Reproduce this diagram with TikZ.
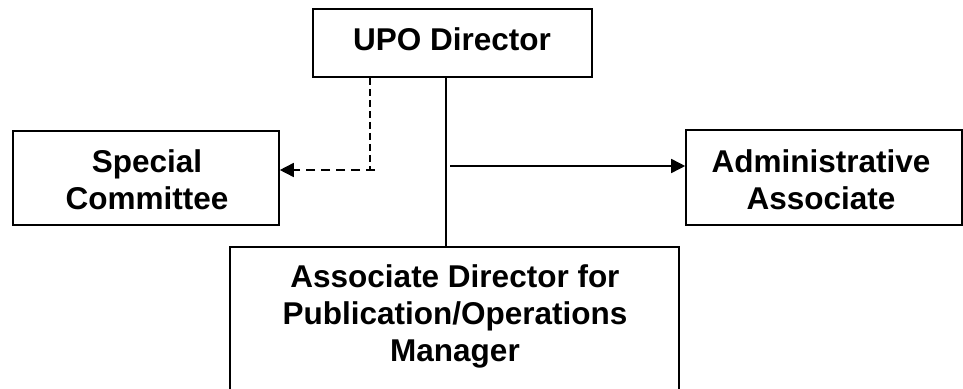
\documentclass[tikz,border=0pt]{standalone}
\usepackage{fontspec}
\setmainfont{Liberation Sans}
\usetikzlibrary{arrows.meta}
\begin{document}
\begin{tikzpicture}[x=1pt,y=-1pt,
  box/.style={draw=black, line width=1.6pt, fill=white, inner sep=0pt},
  lbl/.style={align=center, inner sep=0pt, font=\fontsize{31.5}{37}\selectfont\bfseries},
  link/.style={line width=1.6pt},
  tip/.style={-{Triangle[length=14pt,width=14pt]}}]
\useasboundingbox (0,0) rectangle (963,388);
\clip (0,0) rectangle (963,388);

% boxes
\node[box, minimum width=279pt, minimum height=68pt]  (upo)   at (452.5,43)  {};
\node[box, minimum width=266pt, minimum height=94pt]  (spec)  at (146,178)   {};
\node[box, minimum width=276pt, minimum height=95pt]  (admin) at (824,177.5) {};
\node[box, minimum width=449pt, minimum height=160pt] (assoc) at (454.5,327) {};

% box texts
\node[lbl] (upotext)   at (452,39)  {UPO Director};
\node[lbl] (spectext)  at (147,180) {Special\\Committee};
\node[lbl] (admintext) at (821,180) {Administrative\\Associate};
\node[lbl] (assoctext) at (455,316) {Associate Director for\\Publication/Operations\\Manager};

% reference points for the connectors
\coordinate (trunk)  at (446,0);
\coordinate (dashx)  at (370,0);
\coordinate (corner) at (370,170);
\coordinate (dend)   at (375,170);
\coordinate (astart) at (450,166);

% reporting line down to the associate director
\draw[link] (upo.south -| trunk) -- (assoc.north -| trunk);
% to the administrative associate
\draw[link, tip] (astart) -- (astart -| admin.west);
% advisory (dashed) line to the special committee
\draw[link, dash pattern=on 7pt off 4pt] (upo.south -| dashx) -- (corner);
\draw[link, tip, dash pattern=on 9pt off 6pt] (dend) -- (dend -| spec.east);
\end{tikzpicture}
\end{document}
